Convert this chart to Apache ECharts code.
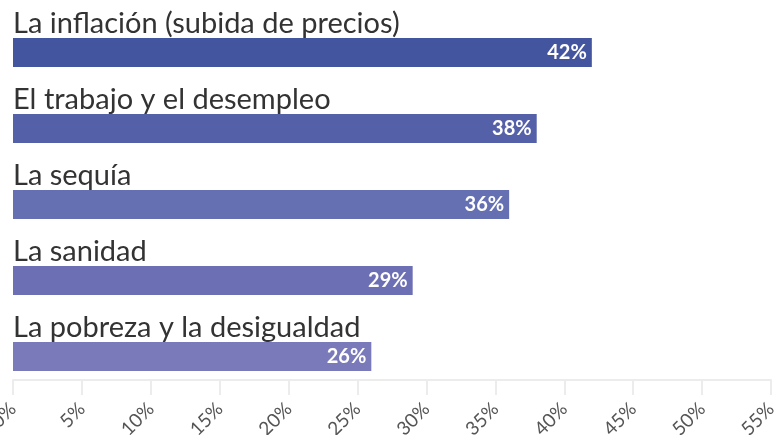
<!DOCTYPE html>
<html>
<head>
<meta charset="utf-8">
<script src="https://cdn.jsdelivr.net/npm/echarts@6/dist/echarts.min.js"></script>
<style>
  html, body { margin: 0; padding: 0; background: #fff; }
  #chart { width: 779px; height: 435px; }
</style>
</head>
<body>
<div id="chart"></div>
<script>
// datos del gráfico
var categorias = [
    'La inflación (subida de precios)',
    'El trabajo y el desempleo',
    'La sequía',
    'La sanidad',
    'La pobreza y la desigualdad'
];
var valores = [42, 38, 36, 29, 26];
var colores = ['#4455a0', '#5461a8', '#6570b2', '#6c6fb3', '#7a79ba'];
var ticksX = [0, 55, 5]; // min, max, intervalo

var chart = echarts.init(document.getElementById('chart'));

var option = {
    animation: false,
    grid: { left: 13, right: 8, top: 0, bottom: 55, outerBoundsMode: 'none', containLabel: false },
    xAxis: {
        type: 'value',
        min: ticksX[0],
        max: ticksX[1],
        interval: ticksX[2],
        axisLine: { show: true, lineStyle: { color: '#ececec', width: 2 } },
        axisTick: { show: true, length: 15, lineStyle: { color: '#ececec', width: 2 } },
        splitLine: { show: false },
        axisLabel: {
            formatter: '{value}%',
            rotate: 45,
            margin: 26,
            color: '#555',
            fontSize: 19,
            fontFamily: 'Lato',
            hideOverlap: false
        }
    },
    yAxis: {
        type: 'category',
        inverse: true,
        data: categorias,
        axisLine: { show: false },
        axisTick: { show: false },
        axisLabel: { show: false }
    },
    series: [
        {
            // serie invisible solo para el nombre encima de cada barra
            type: 'bar',
            barWidth: 29,
            barGap: 0,
            silent: true,
            data: categorias.map(function () { return 0; }),
            itemStyle: { color: 'transparent' },
            label: {
                show: true,
                position: 'right',
                distance: 0,
                formatter: function (p) { return categorias[p.dataIndex]; },
                color: '#333',
                fontSize: 29,
                fontFamily: 'Lato'
            }
        },
        {
            type: 'bar',
            barWidth: 29,
            barGap: 0,
            data: valores.map(function (v, i) {
                return { value: v, itemStyle: { color: colores[i] } };
            }),
            label: {
                show: true,
                position: 'insideRight',
                distance: 5,
                formatter: '{c}%',
                color: '#fff',
                fontWeight: 'bold',
                fontSize: 20,
                fontFamily: 'Lato'
            }
        }
    ]
};
chart.setOption(option);
</script>
</body>
</html>
